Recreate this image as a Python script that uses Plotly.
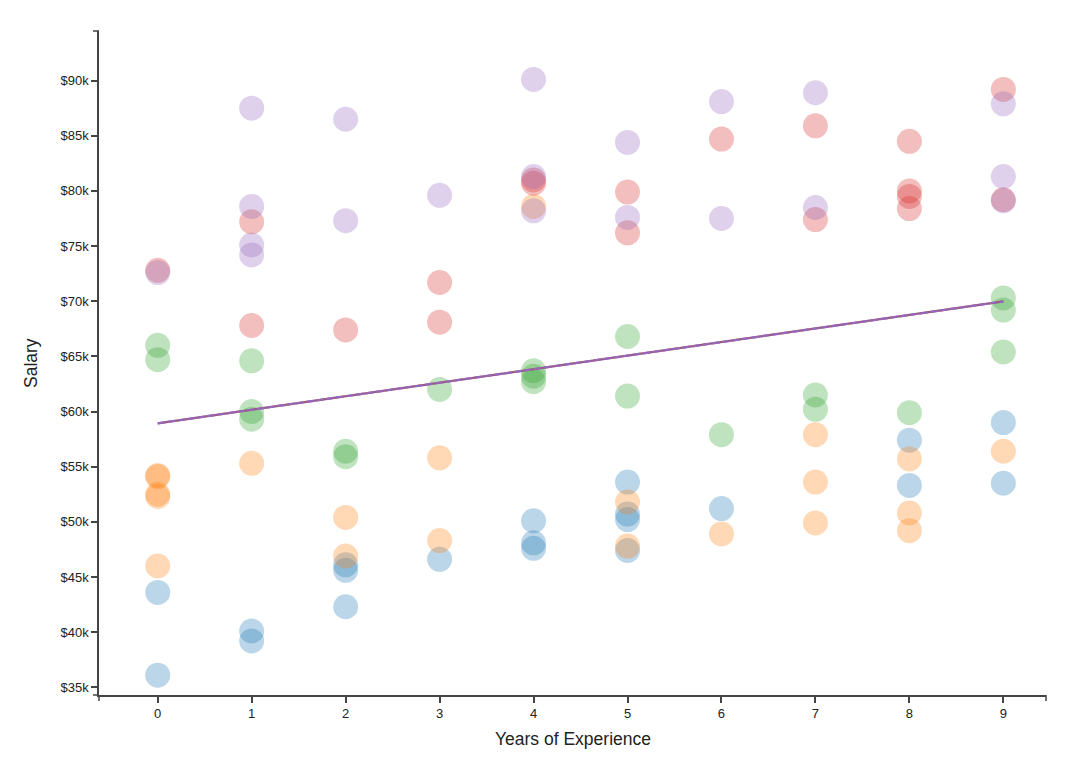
import plotly.graph_objects as go

# Salary in $k, by years of experience, for five groups
blue_x = [0, 0, 1, 1, 2, 2, 2, 3, 4, 4, 4, 5, 5, 5, 5, 6, 8, 8, 9, 9]
blue_y = [43.6, 36.1, 40.1, 39.2, 46.1, 45.6, 42.3, 46.6, 50.1, 48.1, 47.6,
          53.6, 50.7, 50.2, 47.4, 51.2, 57.4, 53.3, 59.0, 53.5]

orange_x = [0, 0, 0, 0, 0, 1, 2, 2, 3, 3, 4, 5, 5, 6, 7, 7, 7, 8, 8, 8, 9]
orange_y = [54.2, 54.1, 52.5, 52.3, 46.0, 55.3, 50.4, 46.9, 55.8, 48.3, 78.6,
            51.8, 47.8, 48.9, 57.9, 53.6, 49.9, 55.7, 50.8, 49.2, 56.4]

green_x = [0, 0, 1, 1, 1, 2, 2, 3, 4, 4, 4, 5, 5, 6, 7, 7, 8, 9, 9, 9]
green_y = [66.0, 64.7, 64.6, 60.0, 59.3, 56.4, 55.9, 62.0, 63.7, 63.2, 62.7,
           66.8, 61.4, 57.9, 61.5, 60.2, 59.9, 70.3, 69.2, 65.4]

red_x = [0, 1, 1, 2, 3, 3, 4, 4, 5, 5, 6, 7, 7, 8, 8, 8, 8, 9, 9]
red_y = [72.8, 77.2, 67.8, 67.4, 71.7, 68.1, 81.0, 80.7, 79.9, 76.2, 84.7,
         85.9, 77.4, 84.5, 80.0, 79.5, 78.4, 89.2, 79.2]

purple_x = [0, 1, 1, 1, 1, 2, 2, 3, 4, 4, 4, 5, 5, 6, 6, 7, 7, 9, 9, 9]
purple_y = [72.6, 87.5, 78.6, 75.1, 74.2, 86.5, 77.3, 79.6, 90.1, 81.3, 78.2,
            84.4, 77.6, 88.1, 77.5, 88.9, 78.5, 87.9, 81.3, 79.1]

# Trend line
trend_x = [0, 9]
trend_y = [58.93, 69.98]

x_ticks = list(range(0, 10))
y_ticks = list(range(35, 95, 5))
y_tick_labels = ["$%dk" % v for v in y_ticks]

groups = [
    ("blue", blue_x, blue_y, "#1f77b4"),
    ("orange", orange_x, orange_y, "#ff7f0e"),
    ("green", green_x, green_y, "#2ca02c"),
    ("red", red_x, red_y, "#d62728"),
    ("purple", purple_x, purple_y, "#9467bd"),
]

fig = go.Figure()
for name, xs, ys, col in groups:
    fig.add_trace(go.Scatter(
        x=xs, y=ys, mode="markers", name=name,
        marker=dict(size=25, color=col, opacity=0.3, line=dict(width=0)),
    ))

fig.add_trace(go.Scatter(x=trend_x, y=trend_y, mode="lines",
                         line=dict(color="#a0556a", width=2.2), name="trend"))
fig.add_trace(go.Scatter(x=trend_x, y=trend_y, mode="lines",
                         line=dict(color="#9467bd", width=2.2, dash="8px,2px"),
                         name="trend2"))

axis_col = "#444444"
font_fam = "Liberation Sans, Arial, sans-serif"
tick_font = dict(family=font_fam, size=13, color="#222222")

fig.update_layout(
    width=1079, height=746,
    margin=dict(l=91, r=41, t=23, b=59),
    paper_bgcolor="white", plot_bgcolor="white",
    showlegend=False,
    xaxis=dict(
        range=[-0.625, 9.454], tickvals=x_ticks, showgrid=False, zeroline=False,
        showline=True, linecolor=axis_col, linewidth=1.5,
        ticks="outside", ticklen=6, tickcolor=axis_col, tickwidth=1.5,
        tickfont=tick_font,
    ),
    yaxis=dict(
        range=[34.3, 94.5], tickvals=y_ticks, ticktext=y_tick_labels,
        showgrid=False, zeroline=False,
        showline=True, linecolor=axis_col, linewidth=1.5,
        ticks="outside", ticklen=6, tickcolor=axis_col, tickwidth=1.5,
        tickfont=tick_font,
    ),
    annotations=[
        dict(text="Years of Experience", xref="paper", yref="paper", x=0.5, y=0,
             yshift=-44, showarrow=False, yanchor="middle", xanchor="center",
             font=dict(family=font_fam, size=17.5, color="#222222")),
        dict(text="Salary", xref="paper", yref="paper", x=0, y=0.5,
             xshift=-68, showarrow=False, textangle=-90, xanchor="center", yanchor="middle",
             font=dict(family=font_fam, size=17.5, color="#222222")),
    ],
    shapes=[
        # outer end ticks of the axis domains
        dict(type="line", xref="paper", yref="paper", xsizemode="pixel", xanchor=0,
             x0=-6, x1=0, y0=1, y1=1, line=dict(color=axis_col, width=1.5)),
        dict(type="line", xref="paper", yref="paper", xsizemode="pixel", xanchor=0,
             x0=-6, x1=0, y0=0, y1=0, line=dict(color=axis_col, width=1.5)),
        dict(type="line", xref="paper", yref="paper", ysizemode="pixel", yanchor=0,
             y0=0, y1=-6, x0=0, x1=0, line=dict(color=axis_col, width=1.5)),
        dict(type="line", xref="paper", yref="paper", ysizemode="pixel", yanchor=0,
             y0=0, y1=-6, x0=1, x1=1, line=dict(color=axis_col, width=1.5)),
    ],
)

fig.write_html("out.html")
